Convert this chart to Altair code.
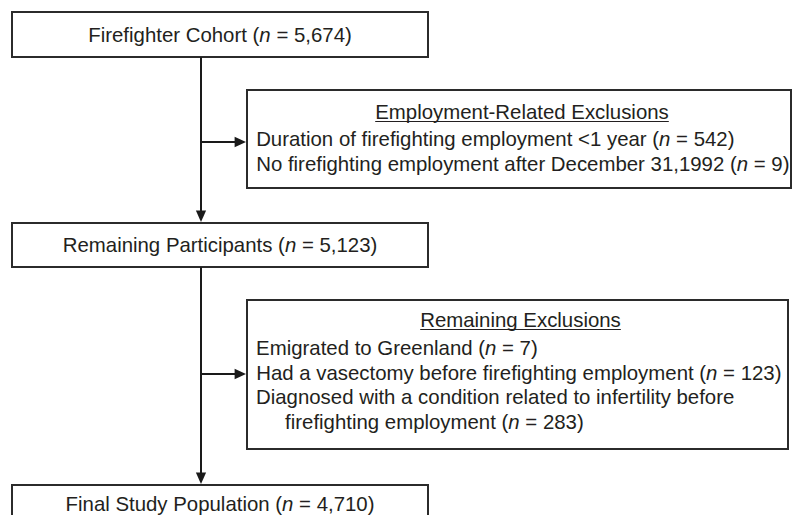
import altair as alt
import pandas as pd

# ---------------- data ----------------
stage_labels = ["Firefighter Cohort", "Remaining Participants", "Final Study Population"]
stage_counts = [5674, 5123, 4710]
exclusion_titles = ["Employment-Related Exclusions", "Remaining Exclusions"]
employment_reasons = ["Duration of firefighting employment <1 year",
                      "No firefighting employment after December 31,1992"]
employment_counts = [542, 9]
remaining_reasons = ["Emigrated to Greenland",
                     "Had a vasectomy before firefighting employment",
                     "Diagnosed with a condition related to infertility before|firefighting employment"]
remaining_counts = [7, 123, 283]

# ---------------- layout (page pixels) ----------------
FONT = "Liberation Sans"
FS = 20.4
INK = "#231f20"
PAGE_W, PAGE_H = 792, 515          # visible drawing limits (page coords)
stage_x = (12, 428)
stage_y = [(12, 57), (223, 267), (485, 530)]
stage_base = [42, 252, 511]
trunk_x = 201
excl_x0 = 247
excl_x1 = [791, 788]
excl_y = [(90, 188), (300, 449)]
excl_head_base = [119, 327]
excl_line_base = [[146, 171], [355, 380, 404, 429]]
excl_branch_y = [142, 374]
text_left = 256
wrap_indent = 29

# Arial / Liberation Sans advance widths (1/1000 em)
W = {' ': 278, '(': 333, ')': 333, ',': 278, '-': 333, '.': 278, '<': 584, '=': 584,
     'A': 667, 'B': 667, 'C': 722, 'D': 722, 'E': 667, 'F': 611, 'G': 778, 'H': 722,
     'I': 278, 'J': 500, 'K': 667, 'L': 556, 'M': 833, 'N': 722, 'O': 778, 'P': 667,
     'Q': 778, 'R': 722, 'S': 667, 'T': 611, 'U': 722, 'V': 667, 'W': 944, 'X': 667,
     'Y': 667, 'Z': 611, 'a': 556, 'b': 556, 'c': 500, 'd': 556, 'e': 556, 'f': 278,
     'g': 556, 'h': 556, 'i': 222, 'j': 222, 'k': 500, 'l': 222, 'm': 833, 'n': 556,
     'o': 556, 'p': 556, 'q': 556, 'r': 333, 's': 500, 't': 278, 'u': 556, 'v': 500,
     'w': 722, 'x': 500, 'y': 500, 'z': 500}
for d in "0123456789":
    W[d] = 556


def tw(s):
    return sum(W.get(c, 556) for c in s) / 1000.0 * FS


N_W = 0.556 * FS
SP_W = 0.278 * FS

pre_rows, n_rows, plain_rows, head_rows, under_rows = [], [], [], [], []


def add_n_line(label, count, y, start=None, center=None):
    pre = label + " ("
    suf = "= {:,})".format(count)
    total = tw(pre) + N_W + SP_W + tw(suf)
    if center is not None:
        start = center - total / 2.0
    xn = start + tw(pre)
    pre_rows.append({"x": xn, "y": y, "t": pre})
    n_rows.append({"x": xn, "y": y, "t": "n"})
    plain_rows.append({"x": xn + N_W + SP_W, "y": y, "t": suf})


# stage boxes
boxes = []
for (y0, y1), lab, cnt, b in zip(stage_y, stage_labels, stage_counts, stage_base):
    boxes.append({"x": stage_x[0], "x2": stage_x[1], "y": y0, "y2": y1})
    add_n_line(lab, cnt, b, center=(stage_x[0] + stage_x[1]) / 2.0)

# exclusion boxes
excl_sets = [(employment_reasons, employment_counts), (remaining_reasons, remaining_counts)]
for i, (reasons, counts) in enumerate(excl_sets):
    y0, y1 = excl_y[i]
    boxes.append({"x": excl_x0, "x2": excl_x1[i], "y": y0, "y2": y1})
    cx = (excl_x0 + excl_x1[i]) / 2.0 + 3
    hb = excl_head_base[i]
    head_rows.append({"x": cx, "y": hb, "t": exclusion_titles[i]})
    hw = tw(exclusion_titles[i])
    under_rows.append({"x": cx - hw / 2, "x2": cx + hw / 2, "y": hb + 2.5, "y2": hb + 2.5})
    bases = excl_line_base[i]
    k = 0
    for reason, cnt in zip(reasons, counts):
        parts = reason.split("|")
        for p in parts[:-1]:
            plain_rows.append({"x": text_left, "y": bases[k], "t": p})
            k += 1
        indent = wrap_indent if len(parts) > 1 else 0
        add_n_line(parts[-1], cnt, bases[k], start=text_left + indent)
        k += 1

# connectors
connectors = [
    {"x": trunk_x, "x2": trunk_x, "y": stage_y[0][1], "y2": stage_y[1][0] - 4},
    {"x": trunk_x, "x2": trunk_x, "y": stage_y[1][1], "y2": stage_y[2][0] - 4},
]
for by in excl_branch_y:
    connectors.append({"x": trunk_x, "x2": excl_x0 - 4, "y": by, "y2": by})
arrows_down = [{"x": trunk_x, "y": stage_y[1][0] - 1}, {"x": trunk_x, "y": stage_y[2][0] - 1}]
arrows_right = [{"x": excl_x0 - 1, "y": by} for by in excl_branch_y]

XS = alt.Scale(domain=[8, PAGE_W], zero=False, nice=False)
YS = alt.Scale(domain=[8, PAGE_H], zero=False, nice=False, reverse=True)


def xy(ch, with2=False):
    enc = dict(x=alt.X("x:Q", scale=XS, axis=None), y=alt.Y("y:Q", scale=YS, axis=None))
    if with2:
        enc["x2"] = "x2:Q"
        enc["y2"] = "y2:Q"
    return ch.encode(**enc)


box_layer = xy(alt.Chart(pd.DataFrame(boxes)).mark_rect(
    fill="white", stroke="#2b2b2b", strokeWidth=2, clip=True), True)
conn_layer = xy(alt.Chart(pd.DataFrame(connectors)).mark_rule(
    color="#1a1a1a", strokeWidth=2), True)
under_layer = xy(alt.Chart(pd.DataFrame(under_rows)).mark_rule(
    color=INK, strokeWidth=1.1), True)
down_layer = xy(alt.Chart(pd.DataFrame(arrows_down)).mark_point(
    shape="M0,0L-0.9,-2L0.9,-2Z", size=130, filled=True, opacity=1, color="#1a1a1a"))
right_layer = xy(alt.Chart(pd.DataFrame(arrows_right)).mark_point(
    shape="M0,0L-2,-0.9L-2,0.9Z", size=130, filled=True, opacity=1, color="#1a1a1a"))


def text_layer(rows, align, style="normal"):
    return alt.Chart(pd.DataFrame(rows)).mark_text(
        align=align, baseline="alphabetic", font=FONT, fontSize=FS,
        fontStyle=style, color=INK
    ).encode(x=alt.X("x:Q", scale=XS, axis=None),
             y=alt.Y("y:Q", scale=YS, axis=None), text="t:N")


chart = alt.layer(
    box_layer, conn_layer, down_layer, right_layer, under_layer,
    text_layer(pre_rows, "right"),
    text_layer(n_rows, "left", "italic"),
    text_layer(plain_rows, "left"),
    text_layer(head_rows, "center"),
).properties(
    width=PAGE_W - 8, height=PAGE_H - 8, padding=0,
    autosize=alt.AutoSizeParams(type="none"),
    background="white",
).configure_view(stroke=None)

chart.save("out.html", embed_options={"renderer": "svg", "actions": False})
